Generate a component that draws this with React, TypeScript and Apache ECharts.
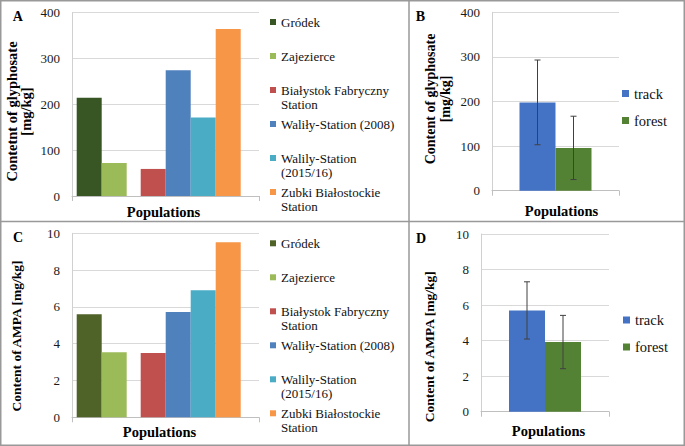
import React, { useEffect, useRef } from 'react';
import * as echarts from 'echarts';

// ---------- data ----------
const sites = [
  'Gródek',
  'Zajezierce',
  'Białystok Fabryczny Station',
  'Waliły-Station (2008)',
  'Walily-Station (2015/16)',
  'Zubki Białostockie Station',
];
const siteFirstLines = ['Gródek', 'Zajezierce', 'Białystok Fabryczny', 'Waliły-Station (2008)', 'Walily-Station', 'Zubki Białostockie'];
const siteSecondLines = ['', '', 'Station', '', '(2015/16)', 'Station'];
const glyphosateBySite = [214, 72, 59, 274, 171, 364];
const ampaBySite = [5.6, 3.53, 3.49, 5.72, 6.9, 9.51];

const habitats = ['track', 'forest'];
const glyphosateByHabitat = [198, 96];
const glyphosateSd = [95, 71];
const ampaByHabitat = [5.7, 3.92];
const ampaSd = [1.61, 1.5];

const glyphosateAxis = { min: 0, max: 400, interval: 100 };
const ampaAxis = { min: 0, max: 10, interval: 2 };

const xTitle = 'Populations';
const yTitleA = 'Contetnt of glyphosate\n[mg/kg]';
const yTitleB = 'Content of glyphosate\n[mg/kg]';
const yTitleC = 'Content of AMPA [mg/kg]';
const yTitleD = 'Content of AMPA [mg/kg]';
const panelLetters = ['A', 'B', 'C', 'D'];

// ---------- style ----------
const FONT = 'Liberation Serif';
const colorsA = ['#375623', '#9bbb59', '#c0504d', '#4f81bd', '#4bacc6', '#f79646'];
const colorsC = ['#4f6228', '#9bbb59', '#c0504d', '#4f81bd', '#4bacc6', '#f79646'];
const habitatColors = ['#4472c4', '#548235'];
const BAR_W = 25;
const GAP_W = 14;
const HB_W = 36;

function axesFor(gridIndex: number, visible: boolean, range: { min: number; max: number; interval: number }) {
  const x: any = {
    type: 'category',
    gridIndex,
    data: [''],
    show: visible,
    axisLine: { show: visible, lineStyle: { color: '#bfbfbf', width: 1 } },
    axisTick: { show: visible, length: 5, lineStyle: { color: '#bfbfbf' } },
    axisLabel: { show: false },
    splitLine: { show: false },
  };
  const y: any = {
    type: 'value',
    gridIndex,
    min: range.min,
    max: range.max,
    interval: range.interval,
    show: visible,
    axisLine: { show: visible, lineStyle: { color: '#d0d0d0', width: 1 } },
    axisTick: { show: false },
    axisLabel: { show: visible, fontFamily: FONT, fontSize: 13, color: '#1a1a1a', margin: 12 },
    splitLine: { show: visible, lineStyle: { color: '#d9d9d9', width: 1 } },
  };
  return { x, y };
}

function siteSeries(axisIndex: number, values: number[], colors: string[], gapName: string) {
  const out: any[] = [];
  values.forEach((v, i) => {
    if (i === 2) {
      out.push({
        type: 'bar',
        name: gapName,
        xAxisIndex: axisIndex,
        yAxisIndex: axisIndex,
        data: ['-'],
        barWidth: GAP_W,
        barGap: '0%',
      });
    }
    out.push({
      type: 'bar',
      name: sites[i],
      xAxisIndex: axisIndex,
      yAxisIndex: axisIndex,
      data: [v],
      barWidth: BAR_W,
      barGap: '0%',
      itemStyle: { color: colors[i] },
    });
  });
  return out;
}

function habitatSeries(axisIndex: number, means: number[], sds: number[]) {
  const out: any[] = habitats.map((h, i) => ({
    type: 'bar',
    name: h,
    xAxisIndex: axisIndex,
    yAxisIndex: axisIndex,
    data: [means[i]],
    barWidth: HB_W,
    barGap: '0%',
    itemStyle: { color: habitatColors[i] },
  }));
  out.push({
    type: 'custom',
    name: 'err' + axisIndex,
    xAxisIndex: axisIndex,
    yAxisIndex: axisIndex,
    z: 5,
    data: means.map((m, i) => [0, m, sds[i], i]),
    renderItem: (params: any, api: any) => {
      const mean = api.value(1);
      const sd = api.value(2);
      const idx = api.value(3);
      const top = api.coord([0, mean + sd]);
      const bot = api.coord([0, mean - sd]);
      const x = top[0] + (idx === 0 ? -HB_W / 2 : HB_W / 2);
      const st = { stroke: '#404040', lineWidth: 1 };
      return {
        type: 'group',
        children: [
          { type: 'line', shape: { x1: x, y1: top[1], x2: x, y2: bot[1] }, style: st },
          { type: 'line', shape: { x1: x - 3, y1: top[1], x2: x + 3, y2: top[1] }, style: st },
          { type: 'line', shape: { x1: x - 3, y1: bot[1], x2: x + 3, y2: bot[1] }, style: st },
        ],
      };
    },
  });
  return out;
}

function siteLegend(left: number, top: number, colors: string[]) {
  return {
    data: sites.map((n, i) => ({ name: n, itemStyle: { color: colors[i] } })),
    orient: 'vertical',
    left,
    top,
    padding: 0,
    itemWidth: 6,
    itemHeight: 6,
    itemGap: 20,
    icon: 'rect',
    selectedMode: false,
    textStyle: { fontFamily: FONT, fontSize: 13, lineHeight: 14, color: '#111' },
    formatter: (n: string) => siteFirstLines[sites.indexOf(n)],
  };
}

function habitatLegend(left: number, top: number) {
  return {
    data: habitats.map((n, i) => ({ name: n, itemStyle: { color: habitatColors[i] } })),
    orient: 'vertical',
    left,
    top,
    padding: 0,
    itemWidth: 7,
    itemHeight: 7,
    itemGap: 12,
    icon: 'rect',
    selectedMode: false,
    textStyle: { fontFamily: FONT, fontSize: 14.5, lineHeight: 15, color: '#111' },
  };
}

function txt(text: string, x: number, y: number, size: number, opts: any = {}) {
  return {
    type: 'text',
    x,
    y,
    rotation: opts.rotation || 0,
    style: {
      text,
      fontFamily: FONT,
      fontSize: size,
      fontWeight: opts.bold === false ? 'normal' : 'bold',
      fill: opts.bold === false ? '#111' : '#000',
      align: opts.align || 'center',
      verticalAlign: 'middle',
      lineHeight: opts.lineHeight || size,
    },
  };
}

export default function App() {
  const ref = useRef<HTMLDivElement>(null);
  useEffect(() => {
    document.body.style.margin = '0';
    if (!ref.current) return;
    const chart = echarts.init(ref.current, undefined, { renderer: 'svg' });

    const grids = [
      { left: 72, top: 12.5, width: 187, height: 183.5 }, // A axes
      { left: 76.7, top: 12.5, width: 164, height: 183.5 }, // A bars
      { left: 492, top: 12.3, width: 127, height: 178.4 }, // B
      { left: 72, top: 233.3, width: 187, height: 184 }, // C axes
      { left: 76.7, top: 233.3, width: 164, height: 184 }, // C bars
      { left: 481, top: 234, width: 128, height: 177.7 }, // D
    ];
    const axA = axesFor(0, true, glyphosateAxis);
    const axA2 = axesFor(1, false, glyphosateAxis);
    const axB = axesFor(2, true, glyphosateAxis);
    const axC = axesFor(3, true, ampaAxis);
    const axC2 = axesFor(4, false, ampaAxis);
    const axD = axesFor(5, true, ampaAxis);
    const all = [axA, axA2, axB, axC, axC2, axD];

    const secondLines: any[] = [];
    siteSecondLines.forEach((s, i) => {
      if (!s) return;
      secondLines.push(txt(s, 281, 15 + 7 + 34 * i + 14, 13, { bold: false, align: 'left' }));
      secondLines.push(txt(s, 281, 236.3 + 7 + 34 * i + 14, 13, { bold: false, align: 'left' }));
    });

    const option: any = {
      animation: false,
      textStyle: { fontFamily: FONT },
      grid: grids,
      xAxis: all.map((a) => a.x),
      yAxis: all.map((a) => a.y),
      legend: [siteLegend(270, 15, colorsA), habitatLegend(622, 86), siteLegend(270, 236.3, colorsC), habitatLegend(623, 312.5)],
      series: [
        ...siteSeries(1, glyphosateBySite, colorsA, 'gapA'),
        ...habitatSeries(2, glyphosateByHabitat, glyphosateSd),
        ...siteSeries(4, ampaBySite, colorsC, 'gapC'),
        ...habitatSeries(5, ampaByHabitat, ampaSd),
      ],
      graphic: [
        { type: 'rect', shape: { x: 0.75, y: 0.75, width: 683.5, height: 444.5 }, style: { fill: 'none', stroke: '#999', lineWidth: 1.5 } },
        { type: 'line', shape: { x1: 409, y1: 0, x2: 409, y2: 446 }, style: { stroke: '#999', lineWidth: 1.5 } },
        { type: 'line', shape: { x1: 0, y1: 221.5, x2: 685, y2: 221.5 }, style: { stroke: '#999', lineWidth: 1.5 } },
        txt(panelLetters[0], 12.7, 16, 14, { align: 'left' }),
        txt(panelLetters[1], 415.7, 16, 14, { align: 'left' }),
        txt(panelLetters[2], 13, 237.3, 14, { align: 'left' }),
        txt(panelLetters[3], 416, 238.3, 14, { align: 'left' }),
        txt(yTitleA, 18.5, 111.5, 14.5, { rotation: Math.PI / 2, lineHeight: 14 }),
        txt(yTitleB, 437.7, 99, 14, { rotation: Math.PI / 2, lineHeight: 15 }),
        txt(yTitleC, 16.7, 336, 13.5, { rotation: Math.PI / 2 }),
        txt(yTitleD, 429, 346.7, 13.5, { rotation: Math.PI / 2 }),
        txt(xTitle, 163.5, 212.3, 14.5),
        txt(xTitle, 561.5, 210.7, 14.5),
        txt(xTitle, 159.5, 432.3, 14.5),
        txt(xTitle, 548.5, 431, 14.5),
        ...secondLines,
      ],
    };
    chart.setOption(option);
    return () => chart.dispose();
  }, []);
  return <div ref={ref} style={{ width: 685, height: 446 }} />;
}
